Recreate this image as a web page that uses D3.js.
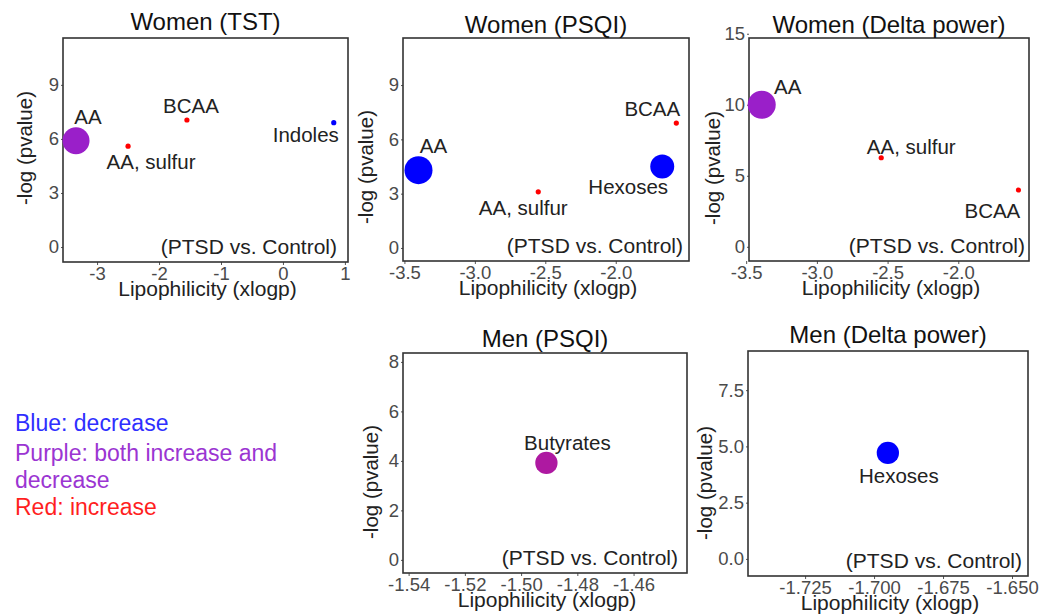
<!DOCTYPE html>
<html>
<head>
<meta charset="utf-8">
<script src="https://cdn.jsdelivr.net/npm/d3@7"></script>
<style>
  html, body { margin: 0; padding: 0; background: #fff; }
  svg { display: block; font-family: "Liberation Sans", Arial, sans-serif; }
</style>
</head>
<body>
<svg id="chart" width="1044" height="616"></svg>
<script>
// ---------------- DATA ----------------
const panelTitles = ["Women (TST)", "Women (PSQI)", "Women (Delta power)", "Men (PSQI)", "Men (Delta power)"];
const xAxisTitle = "Lipophilicity (xlogp)";
const yAxisTitle = "-log (pvalue)";
const cornerNote = "(PTSD vs. Control)";

const xDomains = [[-3.55, 1.05], [-3.51, -1.48], [-3.48, -1.5], [-1.542, -1.441], [-1.7457, -1.6442]];
const yDomains = [[-0.83, 11.6], [-0.72, 11.6], [-1.0, 14.7], [-0.53, 8.36], [-0.76, 9.24]];

const xTickValues = [[-3, -2, -1, 0, 1], [-3.5, -3, -2.5, -2], [-3.5, -3, -2.5, -2], [-1.54, -1.52, -1.50, -1.48, -1.46], [-1.725, -1.700, -1.675, -1.650]];
const xTickLabels = [["-3", "-2", "-1", "0", "1"], ["-3.5", "-3.0", "-2.5", "-2.0"], ["-3.5", "-3.0", "-2.5", "-2.0"], ["-1.54", "-1.52", "-1.50", "-1.48", "-1.46"], ["-1.725", "-1.700", "-1.675", "-1.650"]];
const yTickValues = [[0, 3, 6, 9], [0, 3, 6, 9], [0, 5, 10, 15], [0, 2, 4, 6, 8], [0, 2.5, 5, 7.5]];
const yTickLabels = [["0", "3", "6", "9"], ["0", "3", "6", "9"], ["0", "5", "10", "15"], ["0", "2", "4", "6", "8"], ["0.0", "2.5", "5.0", "7.5"]];

const pointPanel  = [0, 0, 0, 0, 1, 1, 1, 1, 2, 2, 2, 3, 4];
const pointLabels = ["AA", "AA, sulfur", "BCAA", "Indoles", "AA", "AA, sulfur", "BCAA", "Hexoses", "AA", "AA, sulfur", "BCAA", "Butyrates", "Hexoses"];
const xlogp       = [-3.34, -2.50, -1.55, 0.82, -3.40, -2.55, -1.57, -1.67, -3.39, -2.545, -1.575, -1.491, -1.695];
const negLogP     = [5.9, 5.6, 7.05, 6.9, 4.3, 3.1, 6.9, 4.5, 10.0, 6.27, 4.0, 3.92, 4.71];
const metaboliteCount = [28, 1, 1, 1, 30, 1, 1, 22, 30, 1, 1, 19, 19];
const shareIncreased  = [0.5, 1, 1, 0, 0, 1, 1, 0, 0.5, 1, 1, 0.6, 0];

const legendLines = ["Blue: decrease", "Purple: both increase and", "decrease", "Red: increase"];
const legendKeys  = ["blue", "purple", "purple", "red"];

// ---------------- LAYOUT (positions / styles) ----------------
const frames = [
  {l: 63, r: 348, t: 38, b: 262, titleY: 30, yTitleX: 25, yTitleY: 148, noteGap: 11},
  {l: 403, r: 689, t: 38, b: 261, titleY: 33, yTitleX: 366, yTitleY: 167, noteGap: 6},
  {l: 749, r: 1029, t: 38, b: 261, titleY: 33, yTitleX: 713, yTitleY: 168, noteGap: 4},
  {l: 403, r: 687, t: 353, b: 573, titleY: 347, yTitleX: 371, yTitleY: 482, noteGap: 9},
  {l: 748, r: 1028, t: 351, b: 576, titleY: 343, yTitleX: 705, yTitleY: 483, noteGap: 6}
];
const labelOffsets = [[12, -24], [23, 16], [4, -14], [-28, 12], [15, -24], [-15, 16], [-24, -14], [-34, 20], [26, -18], [30, -11], [-26, 21], [21, -20], [11, 23]];
const legendTextColors = {blue: "#2f2fff", purple: "#9b35d2", red: "#ff1f1f"};
const legendY = [423, 453, 480, 507];
const FONT = "Liberation Sans, Arial, sans-serif";

const color = d3.scaleLinear().domain([0, 0.5, 1]).range(["#0000ff", "#9a1fc9", "#ff0000"]);
const radius = d3.scaleSqrt().domain([0, 30]).range([0, 14]);

const svg = d3.select("#chart");

frames.forEach((f, i) => {
  const x = d3.scaleLinear().domain(xDomains[i]).range([f.l, f.r]);
  const y = d3.scaleLinear().domain(yDomains[i]).range([f.b, f.t]);
  const g = svg.append("g");

  // x axis
  const xa = g.append("g").attr("transform", `translate(0,${f.b})`)
    .call(d3.axisBottom(x).tickValues(xTickValues[i]).tickFormat((d, k) => xTickLabels[i][k]).tickSize(3).tickPadding(2));
  xa.select(".domain").remove();
  xa.selectAll("line").attr("stroke", "#555");
  xa.selectAll("text").attr("font-size", 18.5).attr("fill", "#4a4a4a").attr("font-family", FONT);

  // y axis
  const ya = g.append("g").attr("transform", `translate(${f.l},0)`)
    .call(d3.axisLeft(y).tickValues(yTickValues[i]).tickFormat((d, k) => yTickLabels[i][k]).tickSize(2).tickPadding(2));
  ya.select(".domain").remove();
  ya.selectAll("line").attr("stroke", "#555");
  ya.selectAll("text").attr("font-size", 18.5).attr("fill", "#4a4a4a").attr("font-family", FONT);

  // frame
  g.append("rect").attr("x", f.l).attr("y", f.t).attr("width", f.r - f.l).attr("height", f.b - f.t)
    .attr("fill", "none").attr("stroke", "#333").attr("stroke-width", 1.6);

  // title
  g.append("text").attr("x", (f.l + f.r) / 2).attr("y", f.titleY).attr("text-anchor", "middle")
    .attr("font-size", 24).attr("fill", "#111").text(panelTitles[i]);

  // axis titles
  g.append("text").attr("x", (f.l + f.r) / 2 + 2).attr("y", f.b + 34).attr("text-anchor", "middle")
    .attr("font-size", 21).attr("fill", "#222").text(xAxisTitle);
  g.append("text").attr("transform", `translate(${f.yTitleX},${f.yTitleY}) rotate(-90)`)
    .attr("text-anchor", "middle").attr("dy", "0.35em")
    .attr("font-size", 20.5).attr("fill", "#222").text(yAxisTitle);

  // note
  g.append("text").attr("x", f.r - f.noteGap).attr("y", f.b - 15).attr("dy", "0.35em").attr("text-anchor", "end")
    .attr("font-size", 21).attr("fill", "#222").text(cornerNote);

  // points
  const idx = d3.range(pointPanel.length).filter(k => pointPanel[k] === i);
  g.selectAll("circle.pt").data(idx).join("circle").attr("class", "pt")
    .attr("cx", k => x(xlogp[k])).attr("cy", k => y(negLogP[k]))
    .attr("r", k => Math.max(2.6, radius(metaboliteCount[k])))
    .attr("fill", k => color(shareIncreased[k]));
  g.selectAll("text.lbl").data(idx).join("text").attr("class", "lbl")
    .attr("x", k => x(xlogp[k]) + labelOffsets[k][0])
    .attr("y", k => y(negLogP[k]) + labelOffsets[k][1])
    .attr("dy", "0.35em").attr("text-anchor", "middle")
    .attr("font-size", 20.5).attr("fill", "#222").text(k => pointLabels[k]);
});

// legend
svg.append("g").selectAll("text").data(legendLines).join("text")
  .attr("x", 15).attr("y", (d, k) => legendY[k]).attr("dy", "0.35em")
  .attr("font-size", 23).attr("fill", (d, k) => legendTextColors[legendKeys[k]]).text(d => d);
</script>
</body>
</html>
